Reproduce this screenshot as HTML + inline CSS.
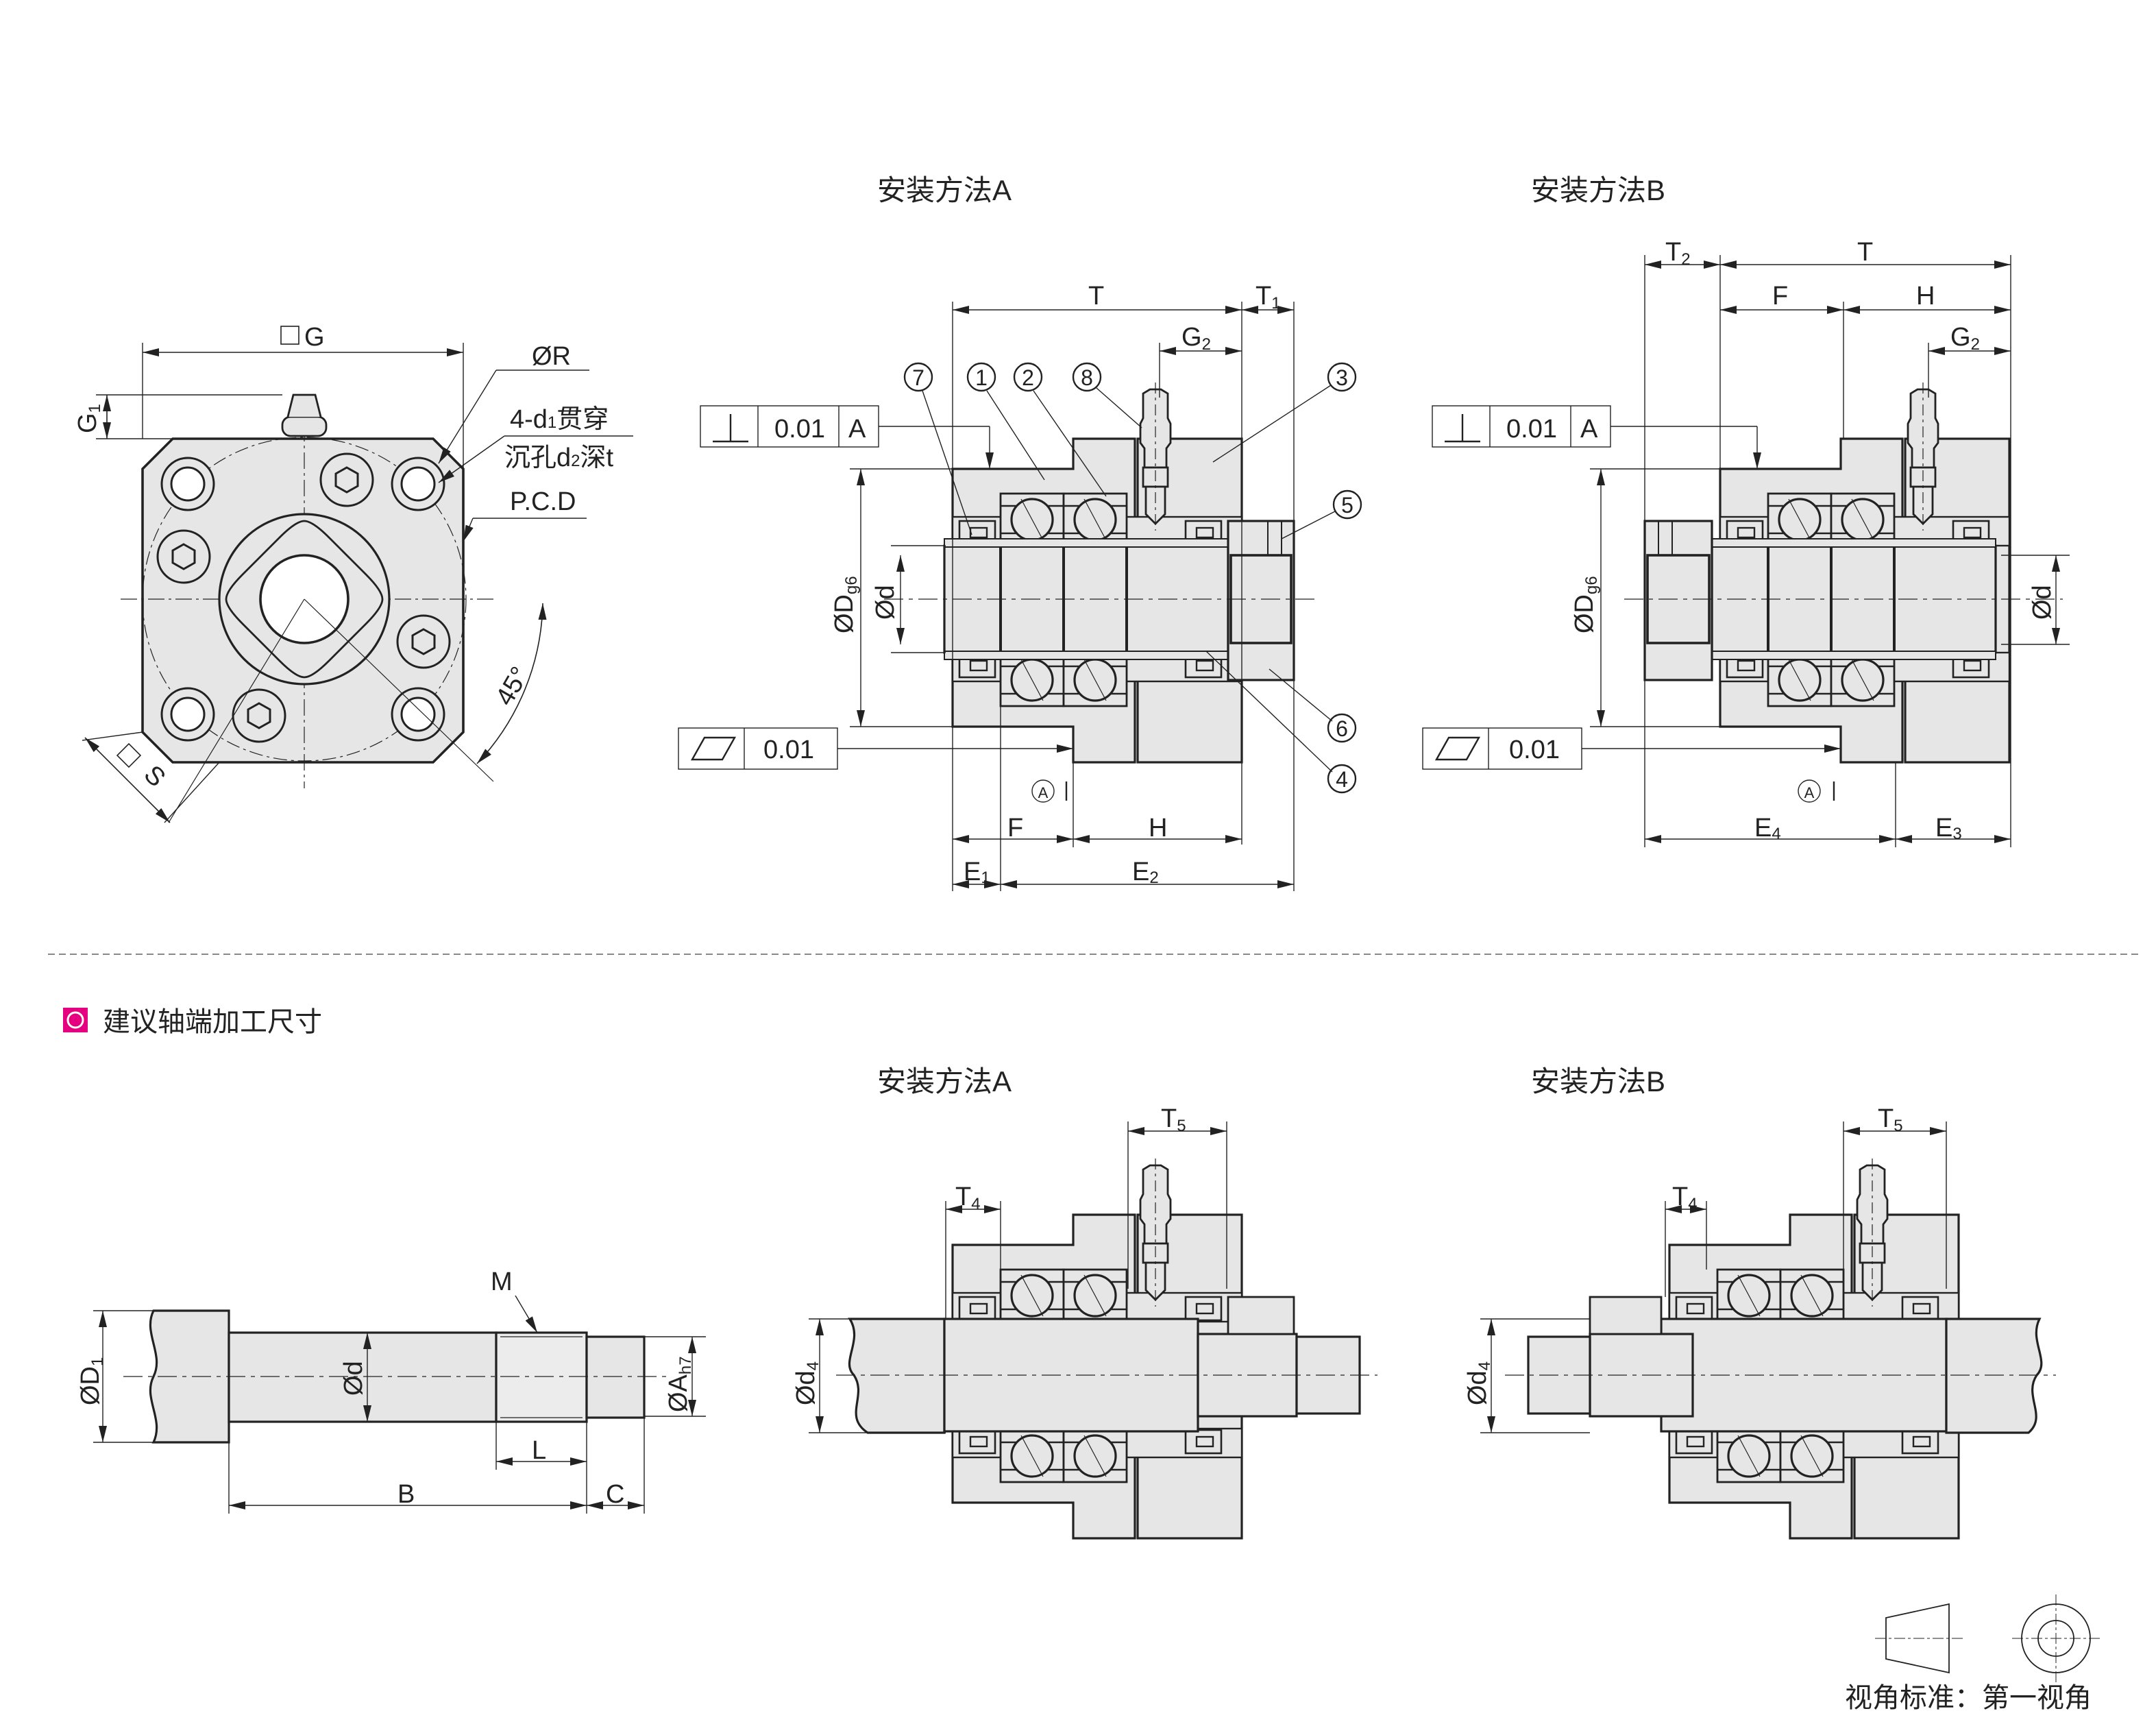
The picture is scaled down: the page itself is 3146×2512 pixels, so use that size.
<!DOCTYPE html>
<html><head><meta charset="utf-8">
<style>
html,body{margin:0;padding:0;background:#fff;}
svg{display:block;}
text{font-family:"Liberation Sans","Noto Sans CJK SC",sans-serif;fill:#222;}
</style></head>
<body>
<svg width="3146" height="2512" viewBox="0 0 1573 1256" xmlns="http://www.w3.org/2000/svg">
<defs>
<marker id="ar" viewBox="0 0 12 6" refX="12" refY="3" markerWidth="12" markerHeight="6" orient="auto-start-reverse" markerUnits="userSpaceOnUse"><path d="M0,0 L12,3 L0,6 z" fill="#222"/></marker>
<g id="brg">
 <rect x="0" y="0" width="46" height="38" fill="#e6e6e6" stroke="#222" stroke-width="1.4"/>
 <line x1="0" y1="9" x2="46" y2="9" stroke="#222" stroke-width="1.2"/>
 <line x1="0" y1="29" x2="46" y2="29" stroke="#222" stroke-width="1.2"/>
 <circle cx="23" cy="19" r="15" fill="#e6e6e6" stroke="#222" stroke-width="1.6"/>
 <line x1="15" y1="4" x2="31" y2="34" stroke="#222" stroke-width="0.6"/>
</g>
<g id="seal">
 <rect x="0" y="0" width="26" height="17" fill="#e6e6e6" stroke="#222" stroke-width="1.3"/>
 <rect x="8" y="5" width="12" height="7" fill="none" stroke="#222" stroke-width="1.2"/>
</g>
<g id="nip">
 <path d="M-9,-150 L-9,-132 L-11,-128 L-11,-114 L-8,-110 L-8,-96 L8,-96 L8,-110 L11,-114 L11,-128 L9,-132 L9,-150 L4,-153 L-4,-153 Z" fill="#e6e6e6" stroke="#222" stroke-width="1.4"/>
 <rect x="-9" y="-96" width="18" height="14" fill="#e6e6e6" stroke="#222" stroke-width="1.4"/>
 <path d="M-7,-82 L-7,-62 L0,-55 L7,-62 L7,-82 Z" fill="#e6e6e6" stroke="#222" stroke-width="1.4"/>
 <line x1="0" y1="-158" x2="0" y2="-50" stroke="#222" stroke-width="0.6" stroke-dasharray="8,3,2,3"/>
</g>
<g id="housing">
 <path d="M0,-95 H88 V-117 H133 V119 H88 V93 H0 Z" fill="#e6e6e6" stroke="#222" stroke-width="1.6"/>
 <rect x="135" y="-117" width="76" height="236" fill="#e6e6e6" stroke="#222" stroke-width="1.6"/>
 <rect x="0" y="-60" width="211" height="21" fill="#e6e6e6" stroke="#222" stroke-width="1.2"/>
 <rect x="0" y="39" width="211" height="21" fill="#e6e6e6" stroke="#222" stroke-width="1.2"/>
 <use href="#brg" x="35" y="-77"/><use href="#brg" x="81" y="-77"/>
 <use href="#brg" x="35" y="40"/><use href="#brg" x="81" y="40"/>
 <use href="#seal" x="5" y="-57"/><use href="#seal" x="170" y="-57"/>
 <use href="#seal" x="5" y="40"/><use href="#seal" x="170" y="40"/>
 <use href="#nip" x="148" y="0"/>
</g>
</defs>

<!-- ============ LEFT PLAN VIEW ============ -->
<g stroke="#222" fill="none">
 <path d="M126,320 H316 L338,342 V534 L316,556 H126 L104,534 V342 Z" fill="#e6e6e6" stroke-width="1.8"/>
 <circle cx="222" cy="437" r="118" stroke-width="0.6" stroke-dasharray="10,3,2,3"/>
 <line x1="88" y1="437" x2="360" y2="437" stroke-width="0.6" stroke-dasharray="12,3,2,3"/>
 <line x1="222" y1="290" x2="222" y2="575" stroke-width="0.6" stroke-dasharray="12,3,2,3"/>
 <circle cx="222" cy="437" r="62" fill="#e6e6e6" stroke-width="1.6"/>
 <path d="M222,380 Q228,380 240,392 L267,419 Q279,431 279,437 Q279,443 267,455 L240,482 Q228,494 222,494 Q216,494 204,482 L177,455 Q165,443 165,437 Q165,431 177,419 L204,392 Q216,380 222,380 Z" fill="#e6e6e6" stroke-width="1.4"/>
 <circle cx="222" cy="437" r="32" fill="#fff" stroke-width="1.8"/>
 <g stroke-width="1.5" fill="#fff">
  <circle cx="137" cy="353" r="19" fill="#e6e6e6"/><circle cx="137" cy="353" r="12"/>
  <circle cx="305" cy="353" r="19" fill="#e6e6e6"/><circle cx="305" cy="353" r="12"/>
  <circle cx="137" cy="521" r="19" fill="#e6e6e6"/><circle cx="137" cy="521" r="12"/>
  <circle cx="305" cy="521" r="19" fill="#e6e6e6"/><circle cx="305" cy="521" r="12"/>
 </g>
 <g stroke-width="1.5" fill="#e6e6e6">
  <circle cx="253" cy="350" r="19"/><path d="M253,341 l8,4.5 v9 l-8,4.5 l-8,-4.5 v-9z"/>
  <circle cx="134" cy="406" r="19"/><path d="M134,397 l8,4.5 v9 l-8,4.5 l-8,-4.5 v-9z"/>
  <circle cx="309" cy="468" r="19"/><path d="M309,459 l8,4.5 v9 l-8,4.5 l-8,-4.5 v-9z"/>
  <circle cx="189" cy="522" r="19"/><path d="M189,513 l8,4.5 v9 l-8,4.5 l-8,-4.5 v-9z"/>
 </g>
 <rect x="206" y="304" width="32" height="14" rx="6" fill="#e6e6e6" stroke-width="1.4"/>
 <path d="M210,304 L214,288 L230,288 L234,304" fill="#e6e6e6" stroke-width="1.4"/>
 <line x1="104" y1="320" x2="104" y2="250" stroke-width="0.7"/>
 <line x1="338" y1="342" x2="338" y2="250" stroke-width="0.7"/>
 <line x1="104" y1="257" x2="338" y2="257" stroke-width="0.8" marker-start="url(#ar)" marker-end="url(#ar)"/>
 <line x1="70" y1="288" x2="206" y2="288" stroke-width="0.7"/>
 <line x1="70" y1="320" x2="126" y2="320" stroke-width="0.7"/>
 <line x1="78" y1="288" x2="78" y2="320" stroke-width="0.8" marker-start="url(#ar)" marker-end="url(#ar)"/>
 <line x1="320" y1="338" x2="362" y2="270" stroke-width="0.7" marker-start="url(#ar)"/>
 <line x1="362" y1="270" x2="430" y2="270" stroke-width="0.7"/>
 <line x1="320" y1="352" x2="368" y2="318" stroke-width="0.7" marker-start="url(#ar)"/>
 <line x1="368" y1="318" x2="462" y2="318" stroke-width="0.7"/>
 <line x1="338" y1="395" x2="345" y2="378" stroke-width="0.7" marker-start="url(#ar)"/>
 <line x1="345" y1="378" x2="428" y2="378" stroke-width="0.7"/>
 <path d="M396,440 A175,175 0 0 1 348,557" stroke-width="0.8" marker-start="url(#ar)" marker-end="url(#ar)"/>
 <line x1="222" y1="437" x2="360" y2="570" stroke-width="0.6"/>
 <line x1="104" y1="534" x2="60" y2="540" stroke-width="0.7"/>
 <line x1="160" y1="556" x2="120" y2="600" stroke-width="0.7"/>
 <line x1="62" y1="538" x2="124" y2="600" stroke-width="0.8" marker-start="url(#ar)" marker-end="url(#ar)"/>
 <line x1="222" y1="437" x2="123" y2="600" stroke-width="0.6"/>
</g>
<g font-size="19">
 <rect x="205" y="238" width="13" height="13" fill="none" stroke="#222" stroke-width="0.8"/>
 <text x="222" y="252">G</text>
 <text x="70" y="316" transform="rotate(-90 70 316)">G<tspan font-size="12" dy="3">1</tspan></text>
 <text x="388" y="266">ØR</text>
 <text x="372" y="312">4-d<tspan font-size="12">1</tspan>贯穿</text>
 <text x="368" y="340">沉孔d<tspan font-size="12">2</tspan>深t</text>
 <text x="372" y="372">P.C.D</text>
 <text x="372" y="516" transform="rotate(-60 372 516)">45°</text>
 <rect x="88" y="545" width="12" height="12" fill="none" stroke="#222" stroke-width="0.8" transform="rotate(45 94 551)"/>
 <text x="104" y="566" transform="rotate(45 104 566)">S</text>
</g>

<!-- ============ METHOD A (top) ============ -->
<text x="640" y="146" font-size="21">安装方法A</text>
<g transform="translate(695,437)">
 <use href="#housing"/>
 <rect x="-6" y="-39" width="207" height="78" fill="#e6e6e6" stroke="#222" stroke-width="1.6"/>
 <line x1="35" y1="-39" x2="35" y2="39" stroke="#222" stroke-width="2"/>
 <line x1="81" y1="-39" x2="81" y2="39" stroke="#222" stroke-width="2"/>
 <line x1="127" y1="-39" x2="127" y2="39" stroke="#222" stroke-width="2"/>
 <rect x="-6" y="-44" width="207" height="6" fill="#e6e6e6" stroke="#222" stroke-width="1"/>
 <rect x="-6" y="38" width="207" height="6" fill="#e6e6e6" stroke="#222" stroke-width="1"/>
 <rect x="201" y="-57" width="48" height="116" fill="#e6e6e6" stroke="#222" stroke-width="1.6"/>
 <rect x="203" y="-32" width="44" height="64" fill="#e6e6e6" stroke="#222" stroke-width="1.8"/>
 <line x1="230" y1="-57" x2="230" y2="-32" stroke="#222" stroke-width="1"/>
 <line x1="240" y1="-57" x2="240" y2="-32" stroke="#222" stroke-width="1"/>
 <line x1="-50" y1="0" x2="265" y2="0" stroke="#222" stroke-width="0.6" stroke-dasharray="14,4,3,4"/>
</g>
<g stroke="#222" stroke-width="0.7" fill="none">
 <line x1="695" y1="342" x2="695" y2="650"/><line x1="906" y1="320" x2="906" y2="616"/><line x1="944" y1="380" x2="944" y2="650"/>
 <line x1="695" y1="220" x2="695" y2="342"/><line x1="906" y1="220" x2="906" y2="320"/><line x1="944" y1="220" x2="944" y2="380"/>
 <line x1="695" y1="226" x2="906" y2="226" marker-start="url(#ar)" marker-end="url(#ar)"/>
 <line x1="906" y1="226" x2="944" y2="226" marker-start="url(#ar)" marker-end="url(#ar)"/>
 <line x1="846" y1="250" x2="846" y2="290"/>
 <line x1="846" y1="256" x2="906" y2="256" marker-start="url(#ar)" marker-end="url(#ar)"/>
 <line x1="783" y1="556" x2="783" y2="618"/><line x1="730" y1="515" x2="730" y2="650"/>
 <line x1="695" y1="612" x2="783" y2="612" marker-start="url(#ar)" marker-end="url(#ar)"/>
 <line x1="783" y1="612" x2="906" y2="612" marker-start="url(#ar)" marker-end="url(#ar)"/>
 <line x1="695" y1="645" x2="730" y2="645" marker-start="url(#ar)" marker-end="url(#ar)"/>
 <line x1="730" y1="645" x2="944" y2="645" marker-start="url(#ar)" marker-end="url(#ar)"/>
 <line x1="620" y1="342" x2="695" y2="342"/><line x1="620" y1="530" x2="695" y2="530"/>
 <line x1="628" y1="342" x2="628" y2="530" marker-start="url(#ar)" marker-end="url(#ar)"/>
 <line x1="650" y1="398" x2="690" y2="398"/><line x1="650" y1="476" x2="690" y2="476"/>
 <line x1="657" y1="405" x2="657" y2="470" marker-start="url(#ar)" marker-end="url(#ar)"/>
 <rect x="511" y="296" width="130" height="30" fill="#fff"/>
 <line x1="553" y1="296" x2="553" y2="326"/><line x1="612" y1="296" x2="612" y2="326"/>
 <line x1="641" y1="311" x2="722" y2="311"/><line x1="722" y1="311" x2="722" y2="342" marker-end="url(#ar)"/>
 <line x1="520" y1="322" x2="546" y2="322" stroke-width="1.2"/><line x1="533" y1="322" x2="533" y2="302" stroke-width="1.2"/>
 <rect x="495" y="531" width="116" height="30" fill="#fff"/>
 <line x1="543" y1="531" x2="543" y2="561"/>
 <path d="M505,554 L514,538 L536,538 L527,554 Z" stroke-width="1.2"/>
 <line x1="611" y1="546" x2="783" y2="546" marker-end="url(#ar)"/>
 <line x1="778" y1="570" x2="778" y2="584" stroke-width="1.2"/>
 <circle cx="761" cy="577" r="8"/>
 <line x1="673" y1="285" x2="709" y2="390"/><line x1="720" y1="285" x2="762" y2="350"/>
 <line x1="754" y1="285" x2="807" y2="362"/><line x1="800" y1="283" x2="833" y2="312"/>
 <line x1="971" y1="281" x2="885" y2="337"/><line x1="974" y1="373" x2="935" y2="393"/>
 <line x1="972" y1="526" x2="926" y2="488"/><line x1="972" y1="563" x2="880" y2="475"/>
 <g stroke-width="1.2"><circle cx="670" cy="275" r="10"/><circle cx="716" cy="275" r="10"/><circle cx="750" cy="275" r="10"/><circle cx="793" cy="275" r="10"/><circle cx="979" cy="275" r="10"/><circle cx="983" cy="368" r="10"/><circle cx="979" cy="531" r="10"/><circle cx="979" cy="568" r="10"/></g>
</g>
<g font-size="19">
 <text x="794" y="222">T</text><text x="916" y="222">T<tspan font-size="12" dy="3">1</tspan></text>
 <text x="862" y="252">G<tspan font-size="12" dy="3">2</tspan></text>
 <text x="735" y="610">F</text><text x="838" y="610">H</text>
 <text x="703" y="642">E<tspan font-size="12" dy="2">1</tspan></text><text x="826" y="642">E<tspan font-size="12" dy="2">2</tspan></text>
 <text x="565" y="319">0.01</text><text x="619" y="319">A</text>
 <text x="557" y="553">0.01</text>
 <text x="622" y="462" transform="rotate(-90 622 462)">ØD<tspan font-size="12" dy="3">g6</tspan></text>
 <text x="652" y="452" transform="rotate(-90 652 452)">Ød</text>
 <g font-size="16" text-anchor="middle"><text x="670" y="281">7</text><text x="716" y="281">1</text><text x="750" y="281">2</text><text x="793" y="281">8</text><text x="979" y="281">3</text><text x="983" y="374">5</text><text x="979" y="537">6</text><text x="979" y="574">4</text><text x="761" y="582" font-size="11">A</text></g>
</g>

<!-- ============ METHOD B (top) ============ -->
<text x="1117" y="146" font-size="21">安装方法B</text>
<g transform="translate(1255,437)">
 <use href="#housing"/>
 <rect x="-6" y="-39" width="207" height="78" fill="#e6e6e6" stroke="#222" stroke-width="1.6"/>
 <line x1="35" y1="-39" x2="35" y2="39" stroke="#222" stroke-width="2"/>
 <line x1="81" y1="-39" x2="81" y2="39" stroke="#222" stroke-width="2"/>
 <line x1="127" y1="-39" x2="127" y2="39" stroke="#222" stroke-width="2"/>
 <rect x="-6" y="-44" width="207" height="6" fill="#e6e6e6" stroke="#222" stroke-width="1"/>
 <rect x="-6" y="38" width="207" height="6" fill="#e6e6e6" stroke="#222" stroke-width="1"/>
 <rect x="-55" y="-57" width="49" height="116" fill="#e6e6e6" stroke="#222" stroke-width="1.6"/>
 <rect x="-53" y="-32" width="45" height="64" fill="#e6e6e6" stroke="#222" stroke-width="1.8"/>
 <line x1="-45" y1="-57" x2="-45" y2="-32" stroke="#222" stroke-width="1"/>
 <line x1="-35" y1="-57" x2="-35" y2="-32" stroke="#222" stroke-width="1"/>
 <line x1="-70" y1="0" x2="250" y2="0" stroke="#222" stroke-width="0.6" stroke-dasharray="14,4,3,4"/>
</g>
<g stroke="#222" stroke-width="0.7" fill="none">
 <line x1="1200" y1="186" x2="1200" y2="618"/><line x1="1255" y1="186" x2="1255" y2="342"/><line x1="1467" y1="186" x2="1467" y2="618"/>
 <line x1="1345" y1="220" x2="1345" y2="320"/><line x1="1407" y1="250" x2="1407" y2="290"/>
 <line x1="1383" y1="556" x2="1383" y2="618"/>
 <line x1="1200" y1="193" x2="1255" y2="193" marker-start="url(#ar)" marker-end="url(#ar)"/>
 <line x1="1255" y1="193" x2="1467" y2="193" marker-start="url(#ar)" marker-end="url(#ar)"/>
 <line x1="1255" y1="226" x2="1345" y2="226" marker-start="url(#ar)" marker-end="url(#ar)"/>
 <line x1="1345" y1="226" x2="1467" y2="226" marker-start="url(#ar)" marker-end="url(#ar)"/>
 <line x1="1407" y1="256" x2="1467" y2="256" marker-start="url(#ar)" marker-end="url(#ar)"/>
 <line x1="1200" y1="612" x2="1383" y2="612" marker-start="url(#ar)" marker-end="url(#ar)"/>
 <line x1="1383" y1="612" x2="1467" y2="612" marker-start="url(#ar)" marker-end="url(#ar)"/>
 <line x1="1160" y1="342" x2="1255" y2="342"/><line x1="1160" y1="530" x2="1255" y2="530"/>
 <line x1="1168" y1="342" x2="1168" y2="530" marker-start="url(#ar)" marker-end="url(#ar)"/>
 <line x1="1460" y1="405" x2="1510" y2="405"/><line x1="1460" y1="470" x2="1510" y2="470"/>
 <line x1="1500" y1="405" x2="1500" y2="470" marker-start="url(#ar)" marker-end="url(#ar)"/>
 <rect x="1045" y="296" width="130" height="30" fill="#fff"/>
 <line x1="1087" y1="296" x2="1087" y2="326"/><line x1="1146" y1="296" x2="1146" y2="326"/>
 <line x1="1175" y1="311" x2="1282" y2="311"/><line x1="1282" y1="311" x2="1282" y2="342" marker-end="url(#ar)"/>
 <line x1="1054" y1="322" x2="1080" y2="322" stroke-width="1.2"/><line x1="1067" y1="322" x2="1067" y2="302" stroke-width="1.2"/>
 <rect x="1038" y="531" width="116" height="30" fill="#fff"/>
 <line x1="1086" y1="531" x2="1086" y2="561"/>
 <path d="M1048,554 L1057,538 L1079,538 L1070,554 Z" stroke-width="1.2"/>
 <line x1="1154" y1="546" x2="1343" y2="546" marker-end="url(#ar)"/>
 <line x1="1338" y1="570" x2="1338" y2="584" stroke-width="1.2"/>
 <circle cx="1320" cy="577" r="8"/>
</g>
<g font-size="19">
 <text x="1215" y="190">T<tspan font-size="12" dy="3">2</tspan></text><text x="1355" y="190">T</text>
 <text x="1293" y="222">F</text><text x="1398" y="222">H</text>
 <text x="1423" y="252">G<tspan font-size="12" dy="3">2</tspan></text>
 <text x="1280" y="610">E<tspan font-size="12" dy="2">4</tspan></text><text x="1412" y="610">E<tspan font-size="12" dy="2">3</tspan></text>
 <text x="1099" y="319">0.01</text><text x="1153" y="319">A</text>
 <text x="1101" y="553">0.01</text>
 <text x="1162" y="462" transform="rotate(-90 1162 462)">ØD<tspan font-size="12" dy="3">g6</tspan></text>
 <text x="1496" y="452" transform="rotate(-90 1496 452)">Ød</text>
 <text x="1320" y="582" font-size="11" text-anchor="middle">A</text>
</g>

<line x1="35" y1="696" x2="1560" y2="696" stroke="#888" stroke-width="1" stroke-dasharray="5,3"/>
<rect x="46" y="735" width="18" height="18" fill="#e4007f"/>
<circle cx="55" cy="744" r="5.5" fill="none" stroke="#fff" stroke-width="1.5"/>
<text x="75" y="752" font-size="20">建议轴端加工尺寸</text>

<!-- ============ SHAFT ============ -->
<g stroke="#222" fill="none">
 <path d="M112,956 H167 V1052 H112 C120,1035 104,1020 112,1004 C120,988 104,972 112,956 Z" fill="#e6e6e6" stroke-width="1.6"/>
 <rect x="167" y="972" width="195" height="65" fill="#e6e6e6" stroke-width="1.6"/>
 <rect x="362" y="972" width="66" height="65" fill="#ececec" stroke-width="1.6"/>
 <line x1="365" y1="975" x2="425" y2="975" stroke-width="0.6"/><line x1="365" y1="1034" x2="425" y2="1034" stroke-width="0.6"/>
 <rect x="428" y="975" width="42" height="59" fill="#e6e6e6" stroke-width="1.6"/>
 <line x1="90" y1="1004" x2="490" y2="1004" stroke-width="0.6" stroke-dasharray="14,4,3,4"/>
 <g stroke-width="0.7">
 <line x1="68" y1="956" x2="112" y2="956"/><line x1="68" y1="1052" x2="112" y2="1052"/>
 <line x1="75" y1="956" x2="75" y2="1052" marker-start="url(#ar)" marker-end="url(#ar)"/>
 <line x1="268" y1="972" x2="268" y2="1037" marker-start="url(#ar)" marker-end="url(#ar)"/>
 <line x1="470" y1="975" x2="515" y2="975"/><line x1="470" y1="1033" x2="515" y2="1033"/>
 <line x1="505" y1="975" x2="505" y2="1033" marker-start="url(#ar)" marker-end="url(#ar)"/>
 <line x1="376" y1="945" x2="392" y2="972" marker-end="url(#ar)"/>
 <line x1="167" y1="1052" x2="167" y2="1104"/><line x1="362" y1="1037" x2="362" y2="1072"/>
 <line x1="428" y1="1037" x2="428" y2="1104"/><line x1="470" y1="1034" x2="470" y2="1104"/>
 <line x1="362" y1="1066" x2="428" y2="1066" marker-start="url(#ar)" marker-end="url(#ar)"/>
 <line x1="167" y1="1098" x2="428" y2="1098" marker-start="url(#ar)" marker-end="url(#ar)"/>
 <line x1="428" y1="1098" x2="470" y2="1098" marker-start="url(#ar)" marker-end="url(#ar)"/>
 </g>
</g>
<g font-size="19">
 <text x="72" y="1025" transform="rotate(-90 72 1025)">ØD<tspan font-size="12" dy="3">1</tspan></text>
 <text x="264" y="1018" transform="rotate(-90 264 1018)">Ød</text>
 <text x="501" y="1030" transform="rotate(-90 501 1030)">ØA<tspan font-size="12" dy="3">h7</tspan></text>
 <text x="358" y="941">M</text><text x="388" y="1064">L</text>
 <text x="290" y="1096">B</text><text x="442" y="1096">C</text>
</g>

<!-- ============ METHOD A (bottom) ============ -->
<text x="640" y="796" font-size="21">安装方法A</text>
<g transform="translate(695,1003)">
 <use href="#housing"/>
 <path d="M-6,-41 H-75 C-65,-25 -82,-10 -72,0 C-62,15 -80,30 -62,42 H-6 Z" fill="#e6e6e6" stroke="#222" stroke-width="1.6"/>
 <rect x="-6" y="-41" width="185" height="82" fill="#e6e6e6" stroke="#222" stroke-width="1.6"/>
 <rect x="179" y="-30" width="72" height="60" fill="#e6e6e6" stroke="#222" stroke-width="1.6"/>
 <rect x="251" y="-28" width="46" height="56" fill="#e6e6e6" stroke="#222" stroke-width="1.6"/>
 <rect x="201" y="-57" width="48" height="27" fill="#e6e6e6" stroke="#222" stroke-width="1.4"/>
 <line x1="-85" y1="0" x2="310" y2="0" stroke="#222" stroke-width="0.6" stroke-dasharray="14,4,3,4"/>
</g>
<g stroke="#222" stroke-width="0.7">
 <line x1="590" y1="962" x2="690" y2="962"/><line x1="590" y1="1045" x2="690" y2="1045"/>
 <line x1="598" y1="962" x2="598" y2="1045" marker-start="url(#ar)" marker-end="url(#ar)"/>
 <line x1="690" y1="876" x2="690" y2="962"/><line x1="730" y1="876" x2="730" y2="926"/>
 <line x1="690" y1="882" x2="730" y2="882" marker-start="url(#ar)" marker-end="url(#ar)"/>
 <line x1="823" y1="818" x2="823" y2="940"/><line x1="895" y1="818" x2="895" y2="940"/>
 <line x1="823" y1="825" x2="895" y2="825" marker-start="url(#ar)" marker-end="url(#ar)"/>
</g>
<g font-size="19">
 <text x="594" y="1025" transform="rotate(-90 594 1025)">Ød<tspan font-size="12" dy="3">4</tspan></text>
 <text x="697" y="879">T<tspan font-size="12" dy="3">4</tspan></text>
 <text x="847" y="822">T<tspan font-size="12" dy="3">5</tspan></text>
</g>

<!-- ============ METHOD B (bottom) ============ -->
<text x="1117" y="796" font-size="21">安装方法B</text>
<g transform="translate(1218,1003)">
 <use href="#housing"/>
 <rect x="-6" y="-41" width="208" height="82" fill="#e6e6e6" stroke="#222" stroke-width="1.6"/>
 <path d="M202,-41 H270 C262,-25 278,-10 268,0 C258,15 276,30 262,42 H202 Z" fill="#e6e6e6" stroke="#222" stroke-width="1.6"/>
 <rect x="-58" y="-30" width="75" height="60" fill="#e6e6e6" stroke="#222" stroke-width="1.6"/>
 <rect x="-103" y="-28" width="45" height="56" fill="#e6e6e6" stroke="#222" stroke-width="1.6"/>
 <rect x="-58" y="-57" width="52" height="27" fill="#e6e6e6" stroke="#222" stroke-width="1.4"/>
 <line x1="-120" y1="0" x2="282" y2="0" stroke="#222" stroke-width="0.6" stroke-dasharray="14,4,3,4"/>
</g>
<g stroke="#222" stroke-width="0.7">
 <line x1="1080" y1="962" x2="1160" y2="962"/><line x1="1080" y1="1045" x2="1160" y2="1045"/>
 <line x1="1088" y1="962" x2="1088" y2="1045" marker-start="url(#ar)" marker-end="url(#ar)"/>
 <line x1="1215" y1="876" x2="1215" y2="946"/><line x1="1245" y1="876" x2="1245" y2="926"/>
 <line x1="1215" y1="882" x2="1245" y2="882" marker-start="url(#ar)" marker-end="url(#ar)"/>
 <line x1="1345" y1="818" x2="1345" y2="940"/><line x1="1420" y1="818" x2="1420" y2="940"/>
 <line x1="1345" y1="825" x2="1420" y2="825" marker-start="url(#ar)" marker-end="url(#ar)"/>
</g>
<g font-size="19">
 <text x="1084" y="1025" transform="rotate(-90 1084 1025)">Ød<tspan font-size="12" dy="3">4</tspan></text>
 <text x="1220" y="879">T<tspan font-size="12" dy="3">4</tspan></text>
 <text x="1370" y="822">T<tspan font-size="12" dy="3">5</tspan></text>
</g>

<g stroke="#222" fill="none" stroke-width="0.9">
 <path d="M1376,1180 L1422,1170 L1422,1220 L1376,1210 Z"/>
 <line x1="1368" y1="1195" x2="1432" y2="1195" stroke-width="0.5" stroke-dasharray="8,2,2,2"/>
 <circle cx="1500" cy="1195" r="25"/><circle cx="1500" cy="1195" r="13"/>
 <line x1="1468" y1="1195" x2="1532" y2="1195" stroke-width="0.5" stroke-dasharray="8,2,2,2"/>
 <line x1="1500" y1="1163" x2="1500" y2="1227" stroke-width="0.5" stroke-dasharray="8,2,2,2"/>
</g>
<text x="1346" y="1245" font-size="20">视角标准：第一视角</text>
</svg>
</body></html>
